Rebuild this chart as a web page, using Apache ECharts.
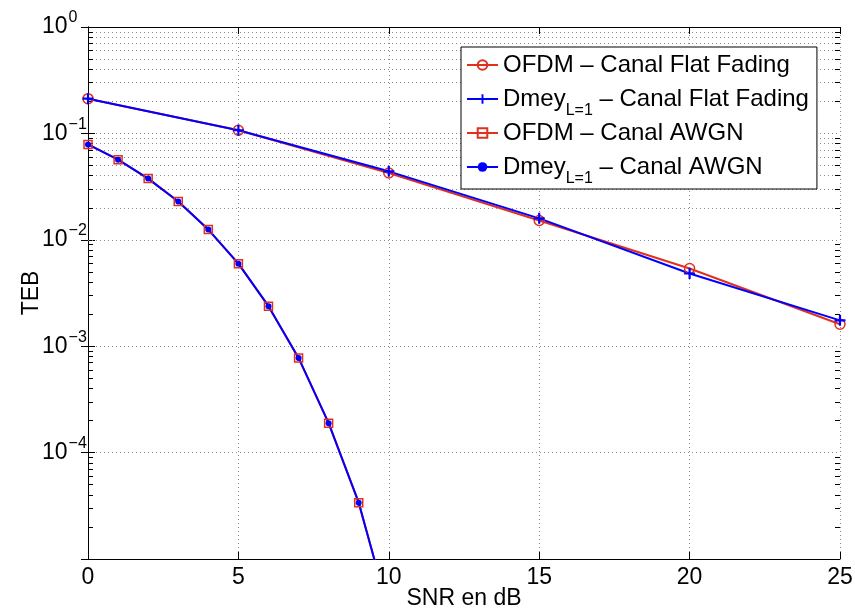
<!DOCTYPE html>
<html>
<head>
<meta charset="utf-8">
<script src="https://cdn.jsdelivr.net/npm/echarts@6/dist/echarts.min.js"></script>
<style>
html,body{margin:0;padding:0;background:#fff;}
#chart{width:855px;height:610px;}
</style>
</head>
<body>
<div id="chart"></div>
<script>
// ---- data ----
const snrFlat = [0, 5, 10, 15, 20, 25];
const ofdmFlat = [0.212, 0.107, 0.0424, 0.0152, 0.00537, 0.00161];
const dmeyFlat = [0.212, 0.107, 0.044, 0.0159, 0.00482, 0.00175];
const snrAwgn = [0, 1, 2, 3, 4, 5, 6, 7, 8, 9, 10];
const ofdmAwgn = [0.0788, 0.0566, 0.0376, 0.0229, 0.01247, 0.00597, 0.00238, 0.000776, 0.000189, 0.0000338, 0.0000032];
const dmeyAwgn = [0.0788, 0.0566, 0.0376, 0.0229, 0.01247, 0.00597, 0.00238, 0.000776, 0.000189, 0.0000338, 0.0000032];
const seriesNames = ['OFDM – Canal Flat Fading', 'Dmey_L=1 – Canal Flat Fading', 'OFDM – Canal AWGN', 'Dmey_L=1 – Canal AWGN'];
const xTicks = [0, 5, 10, 15, 20, 25];
const yDecades = [-5, -4, -3, -2, -1, 0];

// ---- styles ----
const RED = '#E0301E';
const BLUE = '#0000FF';
const FONT = 'Liberation Sans, Arial, Helvetica, sans-serif';
const GRID = {left: 88, right: 15, top: 27, bottom: 51};
const plotW = 855 - GRID.left - GRID.right;
const xMin = xTicks[0], xMax = xTicks[xTicks.length - 1];
const minorTickLen = 5 * (xMax - xMin) / plotW;
const gridStyle = {color: '#8a8a8a', width: 1, type: [1, 3]};

function pair(xs, ys) { return xs.map((x, i) => [x, ys[i]]); }

// minor grid lines + minor ticks (log axis, 2..9 per decade)
const minorData = [];
for (let d = yDecades[0]; d < yDecades[yDecades.length - 1]; d++) {
  for (let m = 2; m <= 9; m++) {
    const v = m * Math.pow(10, d);
    minorData.push({yAxis: v, lineStyle: gridStyle});
    minorData.push([{coord: [xMin, v], lineStyle: {color: '#000', width: 1, type: 'solid'}}, {coord: [xMin + minorTickLen, v]}]);
    minorData.push([{coord: [xMax - minorTickLen, v], lineStyle: {color: '#000', width: 1, type: 'solid'}}, {coord: [xMax, v]}]);
  }
}

const plusPath = 'path://M4,0H6V4H10V6H6V10H4V6H0V4H4Z';

function legendFmt(name) {
  if (name.indexOf('Dmey_L=1') === 0) {
    return '{m|Dmey}{sub|L=1}{m|' + name.substring(8) + '}';
  }
  return '{m|' + name + '}';
}

function yLabel(v) {
  const e = Math.round(Math.log10(v));
  const s = e < 0 ? '\u2212' + (-e) : String(e);
  return '{b|10}{s|' + s + '}';
}

const chart = echarts.init(document.getElementById('chart'), null, {renderer: 'canvas'});
const option = {
  animation: false,
  backgroundColor: '#fff',
  textStyle: {fontFamily: FONT},
  grid: Object.assign({outerBoundsMode: 'none', containLabel: false}, GRID),
  legend: {
    data: seriesNames,
    orient: 'vertical',
    left: 461, top: 47,
    padding: [6, 8, 2, 5],
    itemGap: 2,
    itemWidth: 31,
    itemHeight: 12,
    backgroundColor: '#fff',
    borderColor: '#000',
    borderWidth: 1,
    formatter: legendFmt,
    textStyle: {
      color: '#000',
      rich: {
        m: {fontSize: 24, lineHeight: 26, fontFamily: FONT, color: '#000'},
        sub: {fontSize: 16, lineHeight: 26, padding: [24, 0, 0, 0], fontFamily: FONT, color: '#000'}
      }
    }
  },
  xAxis: [{
    type: 'value', min: xMin, max: xMax, interval: 5,
    name: 'SNR en dB', nameLocation: 'middle', nameGap: 28, nameMoveOverlap: false,
    nameTextStyle: {fontSize: 23, color: '#000', fontFamily: FONT},
    axisLine: {lineStyle: {color: '#000', width: 1}},
    axisTick: {inside: true, length: 7, lineStyle: {color: '#000'}},
    axisLabel: {fontSize: 23, color: '#000', margin: 7, fontFamily: FONT},
    splitLine: {show: true, lineStyle: gridStyle}
  }, {
    type: 'value', min: xMin, max: xMax, interval: 5, position: 'top',
    axisLine: {lineStyle: {color: '#000', width: 1}},
    axisTick: {inside: true, length: 7, lineStyle: {color: '#000'}},
    axisLabel: {show: false},
    splitLine: {show: false}
  }],
  yAxis: [{
    type: 'log', logBase: 10, min: Math.pow(10, yDecades[0]), max: Math.pow(10, yDecades[yDecades.length - 1]),
    splitNumber: 5,
    name: 'TEB', nameLocation: 'middle', nameGap: 45, nameRotate: 90, nameMoveOverlap: false,
    nameTextStyle: {fontSize: 23, color: '#000', fontFamily: FONT},
    axisLine: {lineStyle: {color: '#000', width: 1}},
    axisTick: {inside: true, length: 7, lineStyle: {color: '#000'}},
    axisLabel: {
      showMinLabel: false,
      align: 'left', margin: 46,
      formatter: yLabel,
      rich: {
        b: {fontSize: 23, lineHeight: 22, color: '#000', fontFamily: FONT},
        s: {fontSize: 16, lineHeight: 22, padding: [0, 0, 18, 1], color: '#000', fontFamily: FONT}
      }
    },
    splitLine: {show: true, lineStyle: gridStyle}
  }, {
    type: 'log', logBase: 10, min: Math.pow(10, yDecades[0]), max: Math.pow(10, yDecades[yDecades.length - 1]),
    splitNumber: 5, position: 'right',
    axisLine: {lineStyle: {color: '#000', width: 1}},
    axisTick: {inside: true, length: 7, lineStyle: {color: '#000'}},
    axisLabel: {show: false},
    splitLine: {show: false}
  }],
  series: [
    {
      name: '_grid', type: 'line', data: [], silent: true, z: 1,
      markLine: {silent: true, symbol: ['none', 'none'], label: {show: false}, animation: false, data: minorData, z: 1}
    },
    {
      name: seriesNames[0], type: 'line', data: pair(snrFlat, ofdmFlat),
      lineStyle: {color: RED, width: 2}, symbol: 'circle', symbolSize: 10,
      itemStyle: {color: 'transparent', borderColor: RED, borderWidth: 1.5},
      z: 3
    },
    {
      name: seriesNames[1], type: 'line', data: pair(snrFlat, dmeyFlat),
      lineStyle: {color: BLUE, width: 2}, symbol: plusPath, symbolSize: 11,
      itemStyle: {color: BLUE, borderWidth: 0},
      z: 3
    },
    {
      name: seriesNames[2], type: 'line', data: pair(snrAwgn, ofdmAwgn),
      lineStyle: {color: RED, width: 2}, symbol: 'rect', symbolSize: 8,
      itemStyle: {color: 'transparent', borderColor: RED, borderWidth: 1.5},
      z: 3
    },
    {
      name: seriesNames[3], type: 'line', data: pair(snrAwgn, dmeyAwgn),
      lineStyle: {color: BLUE, width: 2}, symbol: 'circle', symbolSize: 6,
      itemStyle: {color: BLUE, borderWidth: 0},
      z: 3
    }
  ]
};
chart.setOption(option);
</script>
</body>
</html>
